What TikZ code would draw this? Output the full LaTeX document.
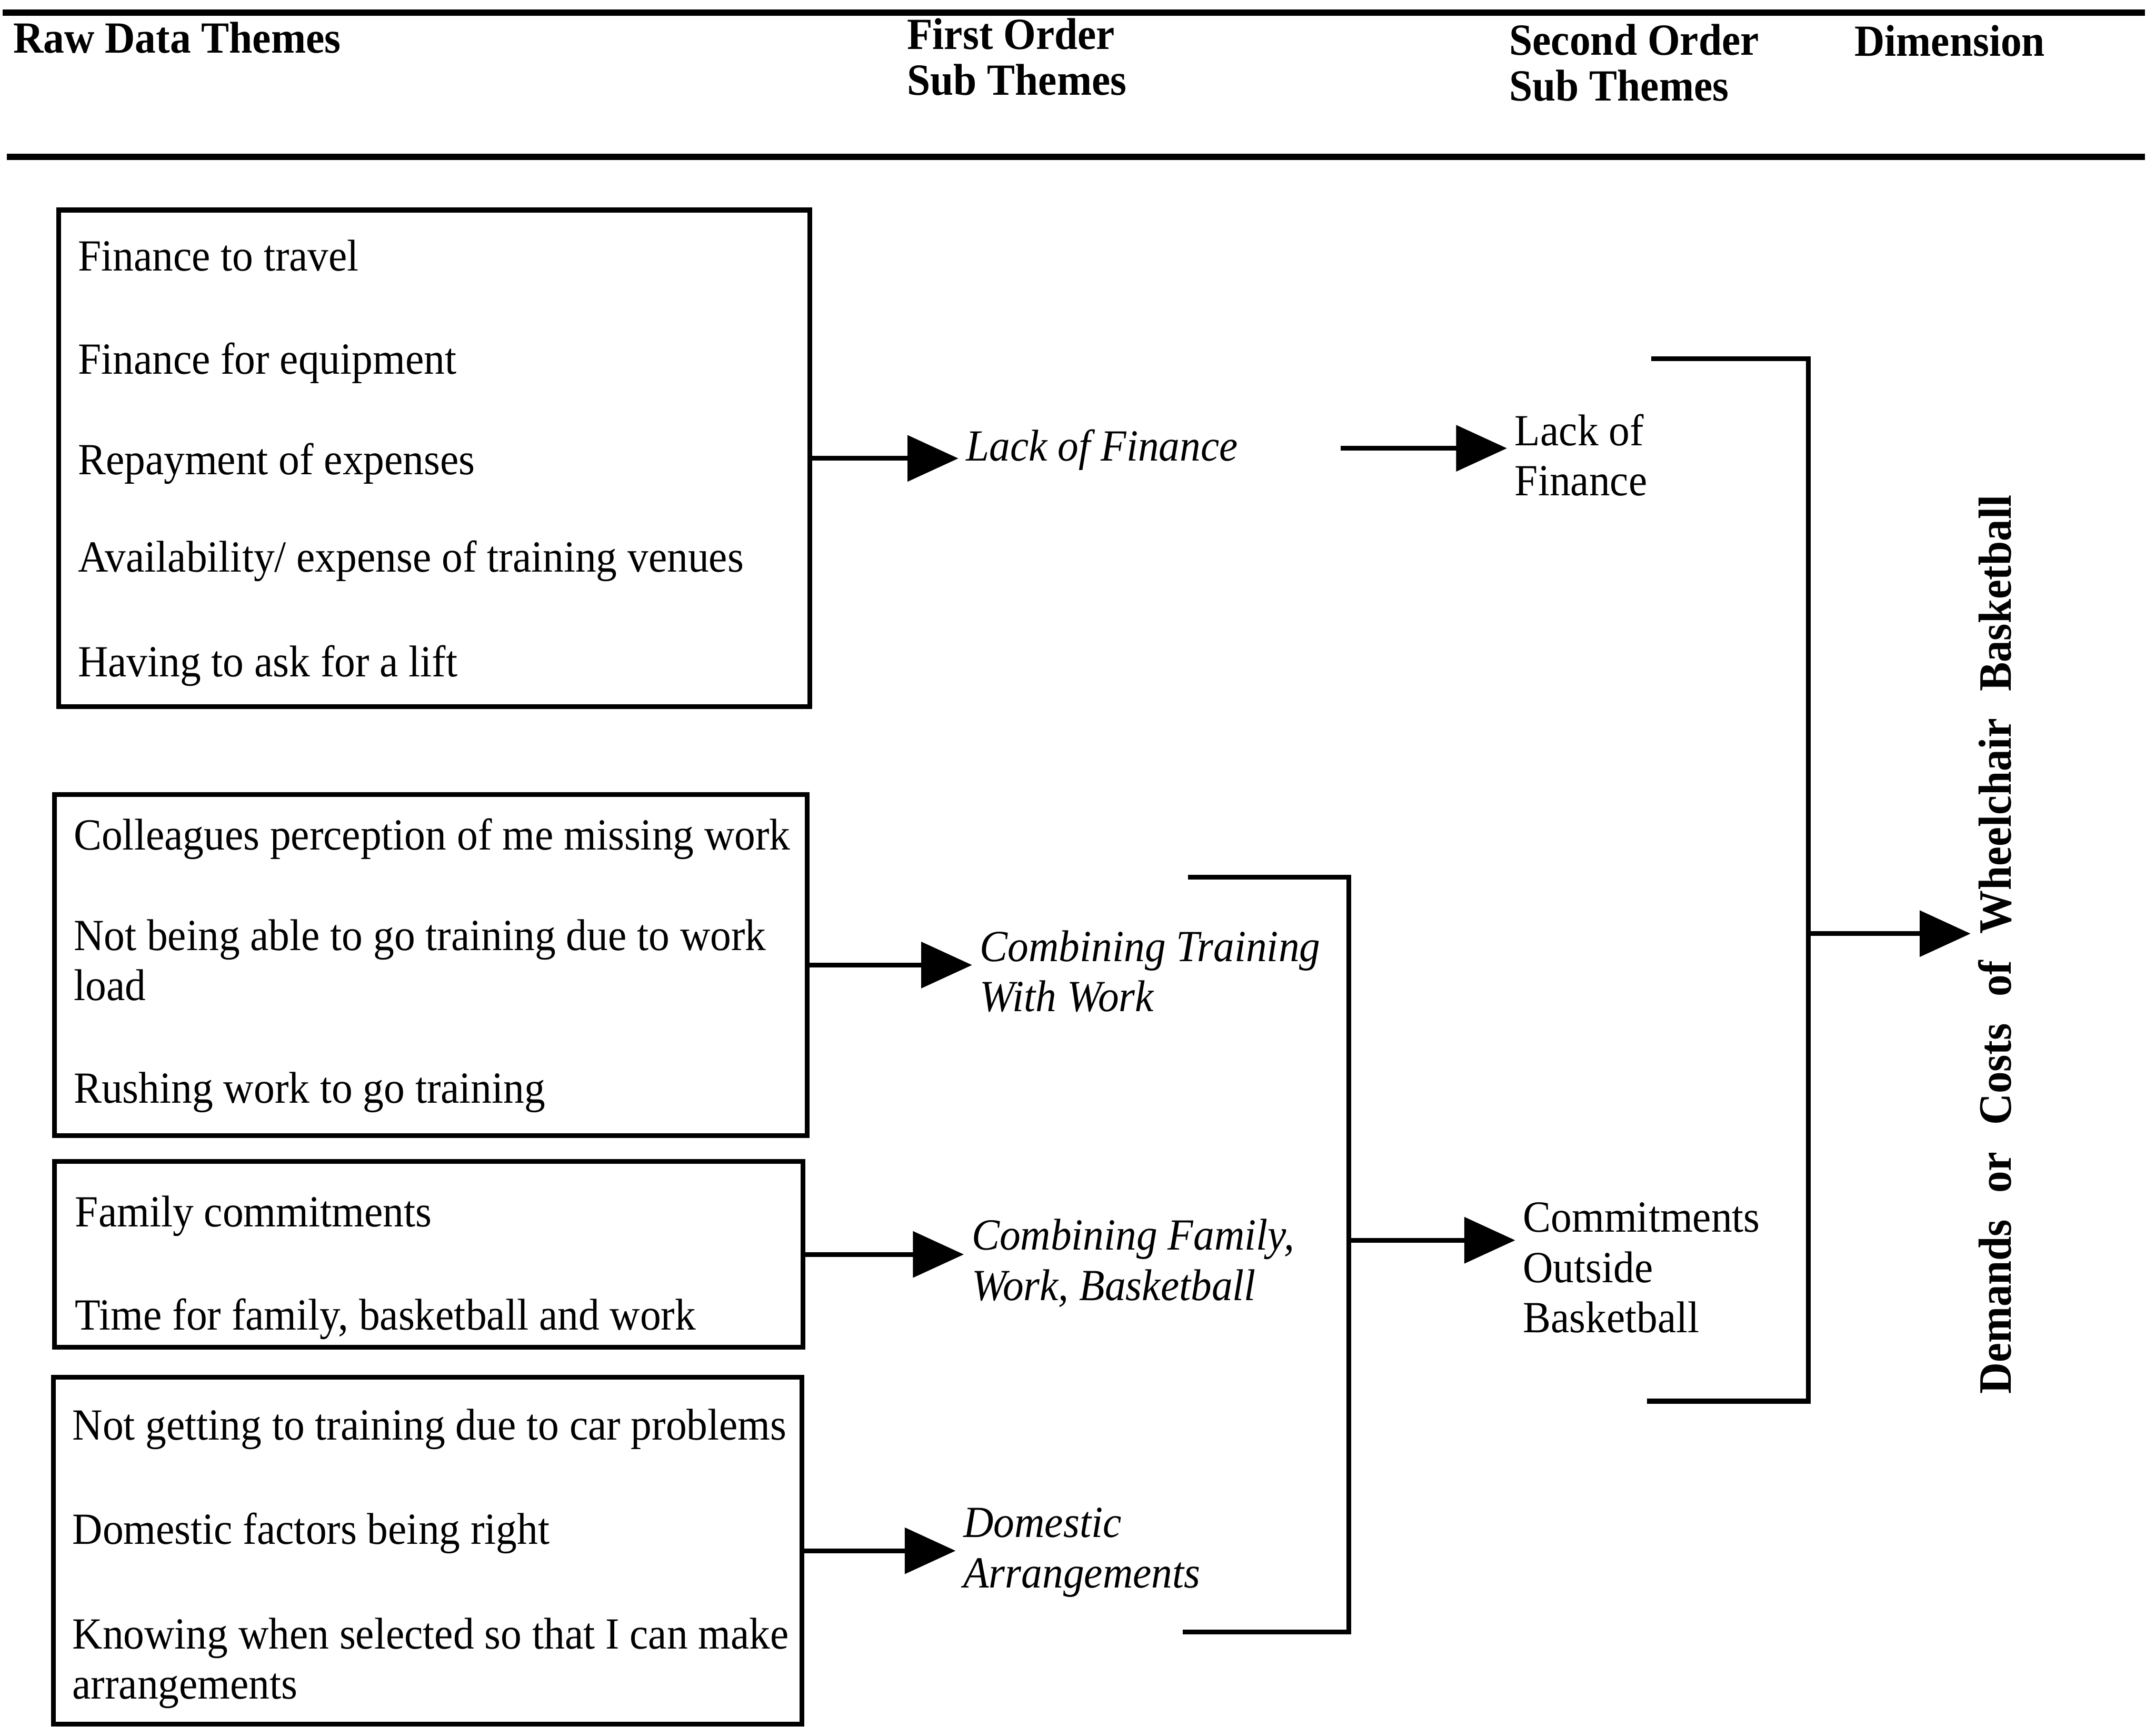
\documentclass[tikz,border=0pt]{standalone}
\usepackage{fontspec}
\setmainfont{Liberation Serif}[FakeStretch=0.94]
\usetikzlibrary{arrows.meta}
\newcommand{\dfs}{\fontsize{9.2}{10.4}\selectfont}
\newcommand{\hfs}{\fontsize{9.2}{9.5}\selectfont}
\newcommand{\tb}[1]{\begin{tabular}[t]{@{}l@{}}#1\end{tabular}}
\newcommand{\wg}{\hspace{5.5pt}}
\begin{document}
\begin{tikzpicture}[x=0.01cm,y=-0.01cm,
  rawbox/.style={draw, line width=1pt, anchor=north west, inner sep=0pt},
  txt/.style={anchor=base west, inner sep=0pt, font=\dfs},
  hdr/.style={anchor=base west, inner sep=0pt, font=\hfs\bfseries},
  lab/.style={anchor=base west, inner sep=0pt, font=\dfs\itshape},
  conn/.style={line width=1pt},
  arr/.style={conn, -{Triangle[length=3.7mm,width=3.3mm]}, shorten >=0.5mm},
  rulel/.style={line width=1.3pt}]
\useasboundingbox (0,0) rectangle (1568,1256);

% header
\draw[rulel] (2,9) -- (1560,9);
\draw[rulel] (5,114) -- (1560,114);
\node[hdr] (h1) at (9,38.5) {Raw Data Themes};
\node[hdr] (h2) at (659,35.7) {\tb{First Order\\Sub Themes}};
\node[hdr] (h3) at (1097,39.8) {\tb{Second Order\\Sub Themes}};
\node[hdr] (h4) at (1348,40.6) {Dimension};

% raw data boxes
\node[rawbox, minimum width=5.46cm, minimum height=3.61cm] (b1) at (41,151) {};
\node[txt] (t11) at (56,197) {Finance to travel};
\node[txt] (t12) at (56,272) {Finance for equipment};
\node[txt] (t13) at (56,345) {Repayment of expenses};
\node[txt] (t14) at (56,416) {Availability/ expense of training venues};
\node[txt] (t15) at (56,492) {Having to ask for a lift};

\node[rawbox, minimum width=5.47cm, minimum height=2.48cm] (b2) at (38,576) {};
\node[txt] (t21) at (53,618) {Colleagues perception of me missing work};
\node[txt] (t22) at (53,691) {\tb{Not being able to go training due to work\\load}};
\node[txt] (t23) at (53,802) {Rushing work to go training};

\node[rawbox, minimum width=5.44cm, minimum height=1.35cm] (b3) at (38,843) {};
\node[txt] (t31) at (54,892) {Family commitments};
\node[txt] (t32) at (54,967) {Time for family, basketball and work};

\node[rawbox, minimum width=5.44cm, minimum height=2.52cm] (b4) at (37,1000) {};
\node[txt] (t41) at (52,1047) {Not getting to training due to car problems};
\node[txt] (t42) at (52,1123) {Domestic factors being right};
\node[txt] (t43) at (52,1199) {\tb{Knowing when selected so that I can make\\arrangements}};

% first order sub themes
\node[lab] (l1) at (702,335) {Lack of Finance};
\node[lab] (l2) at (712,699) {\tb{Combining Training\\With Work}};
\node[lab] (l3) at (706,909) {\tb{Combining Family,\\Work, Basketball}};
\node[lab] (l4) at (700,1118) {\tb{Domestic\\Arrangements}};

\draw[arr] (b1.east) -- (b1.east -| l1.west);
\draw[arr] (b2.east) -- (b2.east -| l2.west);
\draw[arr] (b3.east) -- (b3.east -| l3.west);
\draw[arr] (b4.east) -- (b4.east -| l4.west);

% second order sub themes
\node[txt] (s1) at (1101,324) {\tb{Lack of\\Finance}};
\node[txt] (s2) at (1107,896) {\tb{Commitments\\Outside\\Basketball}};

\coordinate (f1) at (975,326);
\draw[arr] (f1) -- (f1 -| s1.west);

\coordinate (m1) at (864,638);
\coordinate (m2) at (981,638);
\coordinate (m3) at (981,1187);
\coordinate (m4) at (860,1187);
\draw[conn] (m1) -- (m2) -- (m3) -- (m4);
\coordinate (mj) at (981,902);
\draw[arr] (mj) -- (mj -| s2.west);

% dimension
\coordinate (r1) at (1201,261);
\coordinate (r2) at (1315,261);
\coordinate (r3) at (1315,1019);
\coordinate (r4) at (1198,1019);
\draw[conn] (r1) -- (r2) -- (r3) -- (r4);
\node[font=\fontsize{9.6}{10.4}\selectfont\bfseries, rotate=90, inner sep=0pt] (dim) at (1451,687)
  {Demands\wg or\wg Costs\wg of\wg Wheelchair\wg Basketball};
\coordinate (rj) at (1315,679);
\draw[arr] (rj) -- (rj -| dim.north);
\end{tikzpicture}
\end{document}
